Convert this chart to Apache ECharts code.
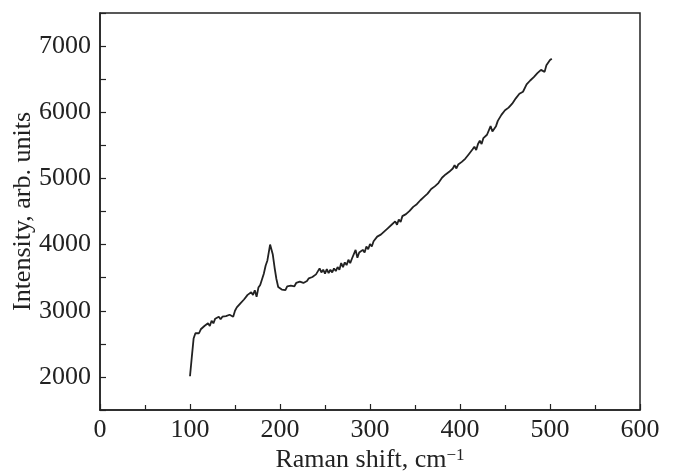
<!DOCTYPE html>
<html><head><meta charset="utf-8">
<script src="https://cdn.jsdelivr.net/npm/echarts@6/dist/echarts.min.js"></script>
<style>html,body{margin:0;padding:0;background:#fff}#c{width:673px;height:473px}</style>
</head><body><div id="c"></div>
<script>
const shift = [
  100,102,104,106,108,110,112,114,116,118,
  120,122,124,126,128,130,132,134,136,138,
  140,142,144,146,148,150,152,154,156,158,
  160,162,164,166,168,170,172,174,176,178,
  180,182,184,186,188,189,190,192,194,196,198,
  200,202,204,206,208,210,212,214,216,218,
  220,222,224,226,228,230,232,234,236,238,
  240,242,244,246,248,250,252,254,256,258,
  260,262,264,266,268,270,272,274,276,278,
  280,282,284,286,288,290,292,294,296,298,
  300,302,304,306,308,310,312,314,316,318,
  320,322,324,326,328,330,332,334,336,338,
  340,342,344,346,348,350,352,354,356,358,
  360,362,364,366,368,370,372,374,376,378,
  380,382,384,386,388,390,392,394,396,398,
  400,402,404,406,408,410,412,414,416,418,
  420,422,424,426,428,430,432,434,436,438,
  440,442,444,446,448,450,452,454,456,458,
  460,462,464,466,468,470,472,474,476,478,
  480,482,484,486,488,490,492,494,496,498,
  500,502];
const intensity = [
  2010,2300,2580,2660,2690,2660,2720,2690,2770,2740,
  2810,2770,2850,2810,2880,2850,2910,2870,2910,2880,
  2920,2890,2940,2960,2910,3000,3050,3040,3110,3100,
  3170,3160,3240,3210,3280,3240,3310,3210,3350,3390,
  3420,3560,3680,3760,3920,4000,3990,3850,3650,3480,3360,
  3330,3320,3350,3310,3370,3350,3380,3400,3370,3420,
  3400,3440,3410,3420,3430,3450,3490,3460,3510,3500,
  3550,3530,3640,3580,3620,3560,3630,3570,3620,3580,
  3640,3600,3660,3620,3720,3660,3730,3690,3770,3720,
  3790,3760,3920,3800,3880,3850,3920,3880,3970,3930,
  4010,3970,4050,4030,4120,4090,4150,4120,4200,4170,
  4250,4220,4300,4270,4350,4300,4380,4340,4430,4410,
  4460,4440,4510,4490,4570,4560,4610,4600,4670,4650,
  4720,4710,4770,4760,4840,4820,4880,4870,4930,4950,
  5010,4990,5060,5040,5100,5090,5150,5200,5150,5210,
  5190,5250,5240,5300,5290,5370,5390,5440,5480,5430,
  5520,5570,5520,5610,5590,5660,5680,5790,5710,5700,
  5790,5870,5880,5960,5990,6030,6040,6070,6080,6130,
  6150,6210,6230,6280,6270,6310,6320,6420,6400,6480,
  6460,6530,6520,6590,6580,6640,6630,6610,6710,6740,
  6790,6810];
const xTicks = [0,100,200,300,400,500,600];
const yTicks = [2000,3000,4000,5000,6000,7000];

const ink = '#222';
const font = 'Liberation Serif';
const chart = echarts.init(document.getElementById('c'));
chart.setOption({
  animation: false,
  backgroundColor: '#fff',
  grid: {left: 100, right: 33, top: 13, bottom: 63, show: true, borderColor: ink, borderWidth: 1.5,
         containLabel: false, outerBoundsMode: 'none'},
  xAxis: {
    type: 'value', min: xTicks[0], max: xTicks[xTicks.length-1], interval: 100,
    axisLine: {show: true, lineStyle: {color: ink, width: 1.5}},
    axisTick: {show: true, inside: true, length: 6, lineStyle: {color: ink, width: 1.2}},
    minorTick: {show: true, splitNumber: 2, length: 5, lineStyle: {color: ink, width: 1.2}},
    splitLine: {show: false},
    axisLabel: {color: ink, fontFamily: font, fontSize: 26, margin: 7},
    name: 'Raman shift, cm{s|−1}', nameLocation: 'middle', nameGap: 37, nameMoveOverlap: false,
    nameTextStyle: {color: ink, fontFamily: font, fontSize: 26,
      rich: {s: {fontFamily: font, fontSize: 17, color: ink, verticalAlign: 'top', padding: [0,0,10,0]}}}
  },
  yAxis: {
    type: 'value', min: 1500, max: 7500, interval: 500,
    axisLine: {show: true, lineStyle: {color: ink, width: 1.5}},
    axisTick: {show: true, inside: true, length: 6, lineStyle: {color: ink, width: 1.2}},
    splitLine: {show: false},
    axisLabel: {color: ink, fontFamily: font, fontSize: 26, margin: 9,
      formatter: v => yTicks.includes(v) ? String(v) : ''},
    name: 'Intensity, arb. units', nameLocation: 'middle', nameGap: 64, nameRotate: 90, nameMoveOverlap: false,
    nameTextStyle: {color: ink, fontFamily: font, fontSize: 26}
  },
  series: [{
    type: 'line', data: shift.map((x, i) => [x, intensity[i]]),
    showSymbol: false, lineStyle: {color: ink, width: 1.8}, smooth: false
  }]
});
</script></body></html>
